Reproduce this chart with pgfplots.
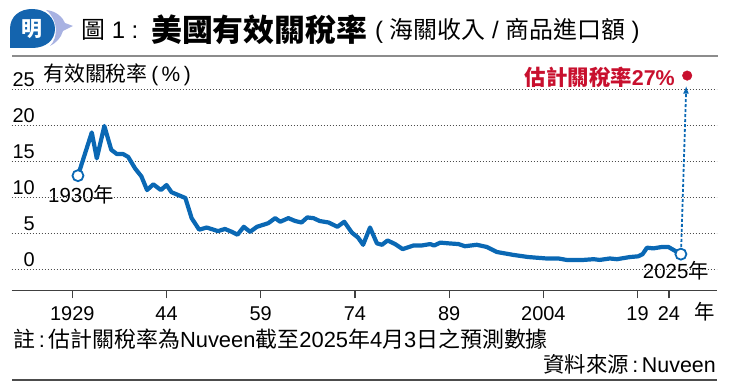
\documentclass[border=0pt]{standalone}
\usepackage{pgfplots}
\pgfplotsset{compat=1.18}
\usetikzlibrary{arrows.meta}
\usepackage{fontspec}
\setmainfont{Liberation Sans}
\newfontfamily\cjk{Noto Sans CJK TC}
\definecolor{lineblue}{HTML}{0A68B4}
\definecolor{tred}{HTML}{C8102E}
\definecolor{logoblue}{HTML}{1464AE}
\definecolor{lav}{HTML}{A8B2E2}
\begin{document}
\begin{tikzpicture}
\useasboundingbox (0,0) rectangle (730bp,392bp);
\begin{scope}[x=1bp,y=-1bp,yshift=392bp]
% logo
\fill[lav] (46,10) .. controls (57,11) and (63,18) .. (65,23) -- (73,26) -- (63,31) .. controls (61,38) and (56,43) .. (50,46) .. controls (58,38) and (59,20) .. (46,10) -- cycle;
\fill[logoblue] (10,48) -- (10,29) .. controls (10,16) and (20,9) .. (32,9) .. controls (46,9) and (55,18) .. (55,29) .. controls (55,40) and (46,48) .. (32,48) -- cycle;
\node[text=white,inner sep=0,font=\fontsize{21}{21}\selectfont\cjk\bfseries] at (32,29) {明};
% title
\node[anchor=west,inner sep=0,font=\fontsize{24}{24}\selectfont] at (81,30) {{\cjk 圖} 1 :};
\node[anchor=west,inner sep=0,font=\fontsize{31}{31}\selectfont\cjk\bfseries] at (151,30) {美國有效關稅率};
\node[anchor=west,inner sep=0,font=\fontsize{24}{24}\selectfont] at (375,31) {( {\cjk 海關收入} / {\cjk 商品進口額} )};
\draw[black!45,line width=1.5bp] (12,56) -- (718,56);
% y label
\node[anchor=west,inner sep=0,font=\fontsize{21}{21}\selectfont] at (43,75) {{\cjk 有效關稅率}\,(\,\%\,)};
% point labels
\node[anchor=west,inner sep=0,font=\fontsize{20.5}{20.5}\selectfont] at (48,195) {1930{\cjk 年}};
\node[anchor=east,inner sep=0,font=\fontsize{20.5}{20.5}\selectfont] at (709,271) {2025{\cjk 年}};
\node[anchor=east,inner sep=0,font=\fontsize{21.5}{21.5}\selectfont\bfseries,text=tred] at (675,77) {{\cjk\bfseries 估計關稅率}27\%};
% x unit
\node[inner sep=0,font=\fontsize{20.5}{20.5}\selectfont\cjk] at (705,312) {年};
% notes
\node[anchor=west,inner sep=0,font=\fontsize{22}{22}\selectfont] at (13,339) {{\cjk 註}\,:\,{\cjk 估計關稅率為}Nuveen{\cjk 截至}2025{\cjk 年}4{\cjk 月}3{\cjk 日之預測數據}};
\node[anchor=east,inner sep=0,font=\fontsize{21.5}{21.5}\selectfont] at (716,364) {{\cjk 資料來源}\,:\,Nuveen};
\draw[black!70,line width=2bp] (12,380) -- (717,380);
\end{scope}
\begin{axis}[
 at={(11.7bp,101.3bp)}, anchor=south west,
 scale only axis, width=705bp, height=234.7bp,
 xmin=1919.35, xmax=2031.6, ymin=-2.875, ymax=29.72,
 clip=false,
 axis x line*=bottom, axis y line*=left,
 y axis line style={draw=none},
 x axis line style={-, line width=1.3bp, black!75},
 xtick={1929,1944,1959,1974,1989,2004,2019,2024},
 xticklabels={1929,44,59,74,89,2004,19,24},
 ytick={0,5,10,15,20,25},
 xtick align=outside, ytick align=inside,
 major tick length=7.6bp,
 xtick style={line width=1.3bp, black!75},
 ytick style={draw=none},
 ymajorgrids,
 grid style={black!70, line width=1bp, dash pattern=on 1.2bp off 1.8bp},
 tick label style={font=\fontsize{20}{20}\selectfont, inner sep=0pt},
 xticklabel style={anchor=base, yshift=-22.5bp},
 yticklabel style={anchor=south east, xshift=23.3bp, yshift=3bp},
 /pgf/number format/assume math mode=true,
]
\addplot[lineblue, line width=4.2bp, line join=round] coordinates {
(1929.9,13.1)(1932.1,19.1)(1932.9,15.5)(1934.1,20.0)(1935.2,16.7)(1936.1,16.1)(1937.1,16.1)(1937.9,15.7)(1939.0,14.1)(1940.0,13.0)(1940.9,11.1)(1941.9,11.9)(1943.1,11.1)(1944.0,11.8)(1944.8,10.8)(1945.9,10.4)(1947.0,10.0)(1948.0,7.2)(1949.2,5.6)(1950.4,5.9)(1952.2,5.4)(1953.3,5.7)(1954.4,5.3)(1955.3,4.9)(1956.3,6.0)(1957.3,5.3)(1958.4,6.0)(1960.2,6.5)(1961.3,7.2)(1962.1,6.7)(1963.4,7.2)(1964.5,6.8)(1965.5,6.6)(1966.4,7.3)(1967.4,7.2)(1968.4,6.8)(1969.8,6.6)(1971.2,6.0)(1972.3,6.7)(1973.5,5.2)(1974.5,4.5)(1975.3,3.5)(1976.4,5.9)(1977.5,3.7)(1978.3,3.5)(1979.2,4.1)(1980.4,3.6)(1981.6,2.9)(1983.3,3.4)(1984.6,3.4)(1986.0,3.6)(1986.6,3.4)(1987.6,3.8)(1988.9,3.7)(1990.5,3.6)(1991.5,3.3)(1993.4,3.5)(1995.0,3.2)(1996.6,2.5)(1999.2,2.1)(2001.6,1.8)(2004.5,1.6)(2006.4,1.6)(2007.7,1.4)(2010.4,1.4)(2012.0,1.5)(2013.0,1.4)(2014.6,1.6)(2015.7,1.5)(2017.8,1.8)(2019.1,1.9)(2019.8,2.2)(2020.5,3.1)(2021.5,3.0)(2022.9,3.2)(2023.9,3.2)(2024.7,2.8)(2025.9,2.2)
};
\draw[lineblue, line width=1.8bp, dash pattern=on 3bp off 2bp, -{Latex[length=8bp,width=6bp]}] (axis cs:2025.95,3.2) -- (axis cs:2026.75,25.6);
\addplot[only marks, mark=*, mark size=5.5bp, mark options={draw=lineblue, fill=white, line width=1.8bp}] coordinates {(1929.9,13.1)(2025.9,2.2)};
\addplot[only marks, mark=*, mark size=4.8bp, mark options={draw=tred, fill=tred}] coordinates {(2026.9,27)};
\end{axis}
\end{tikzpicture}
\end{document}
